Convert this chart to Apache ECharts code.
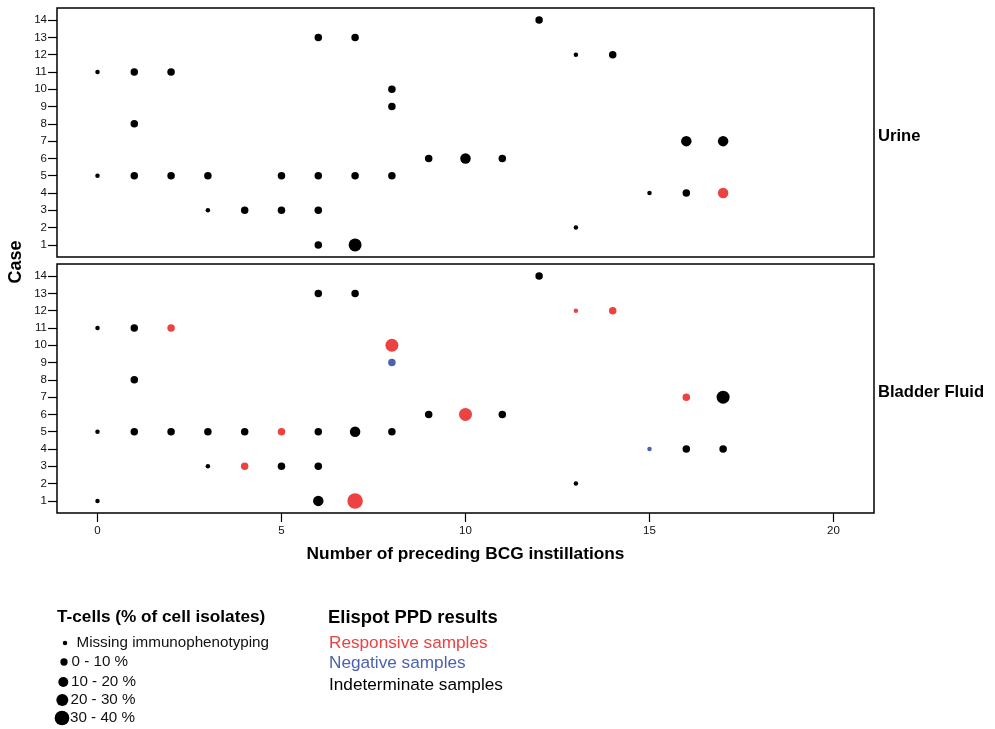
<!DOCTYPE html>
<html>
<head>
<meta charset="utf-8">
<script src="https://cdn.jsdelivr.net/npm/echarts@6/dist/echarts.min.js"></script>
<style>
html,body{margin:0;padding:0;background:#fff;}
#chart{width:995px;height:729px;}
</style>
</head>
<body>
<div id="chart"></div>
<script>
// ---------- DATA ----------
const tcellLabels = ['Missing immunophenotyping', '0 - 10 %', '10 - 20 %', '20 - 30 %', '30 - 40 %'];
const elispotLabels = ['Responsive samples', 'Negative samples', 'Indeterminate samples'];
const elispotKeys = ['R', 'N', 'I'];
const xTicks = [0, 5, 10, 15, 20];
const yTicks = [1, 2, 3, 4, 5, 6, 7, 8, 9, 10, 11, 12, 13, 14];
const panelNames = ['Urine', 'Bladder Fluid'];

// Urine
const urineX      = [0, 1, 2, 6, 7, 1, 8, 8, 9, 10, 11, 0, 1, 2, 3, 5, 6, 7, 8, 3, 4, 5, 6, 6, 7, 12, 13, 14, 16, 17, 15, 16, 17, 13];
const urineCase   = [11, 11, 11, 13, 13, 8, 10, 9, 6, 6, 6, 5, 5, 5, 5, 5, 5, 5, 5, 3, 3, 3, 3, 1, 1, 14, 12, 12, 7, 7, 4, 4, 4, 2];
const urineTcell  = [0, 1, 1, 1, 1, 1, 1, 1, 1, 2, 1, 0, 1, 1, 1, 1, 1, 1, 1, 0, 1, 1, 1, 1, 3, 1, 0, 1, 2, 2, 0, 1, 2, 0];
const urineElispot= ['I','I','I','I','I','I','I','I','I','I','I','I','I','I','I','I','I','I','I','I','I','I','I','I','I','I','I','I','I','I','I','I','R','I'];

// Bladder fluid
const bladderX      = [0, 1, 2, 6, 7, 8, 8, 1, 9, 10, 11, 0, 1, 2, 3, 4, 5, 6, 7, 8, 3, 4, 5, 6, 0, 6, 7, 12, 13, 14, 16, 17, 15, 16, 17, 13];
const bladderCase   = [11, 11, 11, 13, 13, 10, 9, 8, 6, 6, 6, 5, 5, 5, 5, 5, 5, 5, 5, 5, 3, 3, 3, 3, 1, 1, 1, 14, 12, 12, 7, 7, 4, 4, 4, 2];
const bladderTcell  = [0, 1, 1, 1, 1, 3, 1, 1, 1, 3, 1, 0, 1, 1, 1, 1, 1, 1, 2, 1, 0, 1, 1, 1, 0, 2, 4, 1, 0, 1, 1, 3, 0, 1, 1, 0];
const bladderElispot= ['I','I','R','I','I','R','N','I','I','R','I','I','I','I','I','I','R','I','I','I','I','R','I','I','I','I','R','I','R','R','R','I','N','I','I','I'];

// ---------- STYLE ----------
const FONT = '"Liberation Sans", Arial, Helvetica, sans-serif';
const sizes = [4.5, 7.5, 10.5, 13, 15.5];
const legendSizes = [4.5, 7.3, 10, 12, 14.7];
const colors = { R: '#EC4242', N: '#4A62B0', I: '#000000' };

function build(xs, cs, ts, es) {
  return xs.map((x, i) => ({
    value: [x, cs[i]],
    symbolSize: sizes[ts[i]],
    itemStyle: { color: colors[es[i]], opacity: 1 }
  }));
}

const grids = [
  { left: 57, top: 8, width: 817, height: 249 },
  { left: 57, top: 264, width: 817, height: 249 }
];

const xAxes = grids.map((g, i) => ({
  type: 'value', gridIndex: i, min: -1.1, max: 21.1, position: 'bottom',
  axisLine: { show: false, onZero: false },
  splitLine: { show: false },
  axisTick: { show: i === 1, length: 9, customValues: xTicks, lineStyle: { color: '#000', width: 1.2 } },
  axisLabel: { show: i === 1, customValues: xTicks, margin: 12, fontSize: 11.5, color: '#111', fontFamily: FONT },
  name: i === 1 ? 'Number of preceding BCG instillations' : '',
  nameLocation: 'middle', nameGap: 33,
  nameTextStyle: { fontSize: 17.3, fontWeight: 'bold', color: '#000', fontFamily: FONT }
}));

const yAxes = grids.map((g, i) => ({
  type: 'value', gridIndex: i, min: 0.3, max: 14.7, position: 'left',
  axisLine: { show: false, onZero: false },
  splitLine: { show: false },
  axisTick: { show: true, length: 9, customValues: yTicks, lineStyle: { color: '#000', width: 1.2 } },
  axisLabel: { customValues: yTicks, margin: 10, fontSize: 11.5, color: '#111', fontFamily: FONT }
}));

const graphics = [];
// Shared y title
graphics.push({ type: 'text', x: 16, y: 262, rotation: Math.PI / 2,
  style: { text: 'Case', font: 'bold 18px ' + FONT, fill: '#000', textAlign: 'center', textVerticalAlign: 'middle' } });
// Panel strip labels
[136, 392].forEach((yy, i) => graphics.push({ type: 'text', x: 878, y: yy,
  style: { text: panelNames[i], font: 'bold 16.6px ' + FONT, fill: '#000', textAlign: 'left', textVerticalAlign: 'middle' } }));
// T-cell legend
graphics.push({ type: 'text', x: 57, y: 617,
  style: { text: 'T-cells (% of cell isolates)', font: 'bold 17.2px ' + FONT, fill: '#000', textVerticalAlign: 'middle' } });
const legY = [643, 662, 682, 700, 718];
const legCx = [65, 64, 63.3, 62.3, 62];
const legTx = [76.5, 71.5, 71, 70.5, 70];
tcellLabels.forEach((lab, i) => {
  graphics.push({ type: 'circle', shape: { cx: legCx[i], cy: legY[i], r: legendSizes[i] / 2 }, style: { fill: '#000' } });
  graphics.push({ type: 'text', x: legTx[i], y: legY[i],
    style: { text: lab, font: '15.2px ' + FONT, fill: '#111', textVerticalAlign: 'middle' } });
});
// Elispot legend
graphics.push({ type: 'text', x: 328, y: 618,
  style: { text: 'Elispot PPD results', font: 'bold 18.4px ' + FONT, fill: '#000', textVerticalAlign: 'middle' } });
const eY = [643, 663, 685];
elispotLabels.forEach((lab, i) => graphics.push({ type: 'text', x: 329, y: eY[i],
  style: { text: lab, font: '17.2px ' + FONT, fill: colors[elispotKeys[i]], textVerticalAlign: 'middle' } }));

const option = {
  animation: false,
  backgroundColor: '#fff',
  grid: grids.map(g => Object.assign({ show: true, borderColor: '#000', borderWidth: 1.5, backgroundColor: 'transparent' }, g)),
  xAxis: xAxes,
  yAxis: yAxes,
  series: [
    { type: 'scatter', xAxisIndex: 0, yAxisIndex: 0, name: panelNames[0],
      itemStyle: { opacity: 1 },
      data: build(urineX, urineCase, urineTcell, urineElispot) },
    { type: 'scatter', xAxisIndex: 1, yAxisIndex: 1, name: panelNames[1],
      itemStyle: { opacity: 1 },
      data: build(bladderX, bladderCase, bladderTcell, bladderElispot) }
  ],
  graphic: graphics
};

const chart = echarts.init(document.getElementById('chart'), null, { renderer: 'canvas' });
chart.setOption(option);
</script>
</body>
</html>
